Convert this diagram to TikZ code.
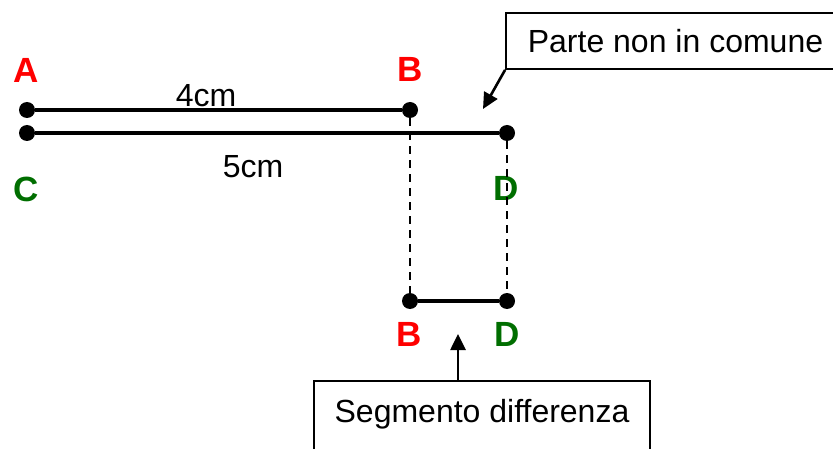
\documentclass[tikz,border=0pt]{standalone}
\usepackage{fontspec}
\setmainfont{Liberation Sans}
\usetikzlibrary{arrows.meta,calc}
\definecolor{lblred}{RGB}{255,0,0}
\definecolor{lblgreen}{RGB}{0,110,0}
\begin{document}
\begin{tikzpicture}[x=1pt,y=-1pt,
  dot/.style={circle,fill=black,inner sep=0pt,minimum size=16pt},
  seg/.style={line width=3.6pt},
  guide/.style={line width=2.8pt,dash pattern=on 8pt off 6pt},
  redlbl/.style={text=lblred,font=\fontsize{35}{40}\selectfont\bfseries,inner sep=0pt,anchor=base},
  greenlbl/.style={text=lblgreen,font=\fontsize{35}{40}\selectfont\bfseries,inner sep=0pt,anchor=base},
  txt/.style={font=\fontsize{32}{38}\selectfont,inner sep=0pt,anchor=base},
  callout/.style={draw,line width=1.8pt,inner sep=0pt,font=\fontsize{32}{38}\selectfont},
  pointer/.style={line width=2.6pt,-{Triangle[length=16pt,width=15pt]}}]
\useasboundingbox (0,0) rectangle (833,449);
\clip (0,0) rectangle (833,449);
% points
\node[dot] (a) at (27,110) {};
\node[dot] (b) at (410,110) {};
\node[dot] (c) at (27,133) {};
\node[dot] (d) at (507,133) {};
\node[dot] (b2) at (410,301) {};
\node[dot] (d2) at (507,301) {};
% labels
\node[redlbl] (la) at (26,83) {A};
\node[redlbl] (lb) at (410,82) {B};
\node[greenlbl] (lc) at (26,202) {C};
\node[greenlbl] (ld) at (506,201) {D};
\node[redlbl] (lb2) at (409.5,346) {B};
\node[greenlbl] (ld2) at (507,346) {D};
\node[txt] (l4) at (206,107) {4cm};
\node[txt] (l5) at (253,178) {5cm};
% segments
\draw[seg] (a) -- (b);
\draw[seg] (c) -- (d);
\draw[seg] (b2) -- (d2);
\draw[guide] (b) -- (b2);
\draw[guide] (d) -- (d2);
% callouts
\node[callout,minimum width=339pt,minimum height=56pt] (topbox) at (675.5,41) {Parte non in comune};
\coordinate (nctip) at (483,109);
\draw[pointer] (topbox.south west) -- (nctip);
\node[callout,minimum width=336pt,minimum height=95pt] (diffbox) at (482,428.5) {};
\node[txt] (difftext) at (482,422) {Segmento differenza};
\coordinate (difftip) at (458,334);
\draw[pointer] (diffbox.north -| difftip) -- (difftip);
\end{tikzpicture}
\end{document}
